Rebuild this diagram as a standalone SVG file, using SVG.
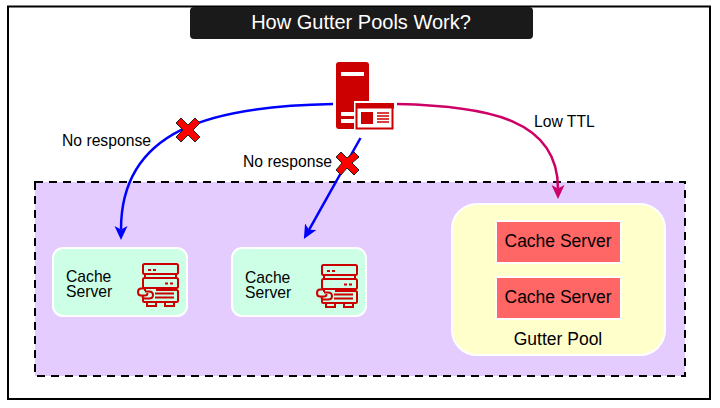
<svg xmlns="http://www.w3.org/2000/svg" width="720" height="408" viewBox="0 0 720 408">
<style>
text{font-family:"Liberation Sans",Arial,sans-serif;fill:#000;font-size:15.700px}
.m{text-anchor:middle}
.big{font-size:17.500px}
.cs{fill:#ccffe6;stroke:#fff;stroke-width:2}
.red{fill:#ff6666;stroke:#fff;stroke-width:2}
.ic{fill:none;stroke:#cc0000;stroke-width:2}
.x{fill:#ff0000;stroke:#222;stroke-width:1}
.c{fill:none;stroke-width:2.500}
</style>
<defs>
<marker id="ab" markerUnits="userSpaceOnUse" markerWidth="14" markerHeight="14" refX="3.500" refY="7" orient="auto" viewBox="0 0 14 14"><path d="M0 0.500L3.500 7L0 13.500L14 7Z" fill="#0000ff"/></marker>
<marker id="am" markerUnits="userSpaceOnUse" markerWidth="14" markerHeight="14" refX="3.500" refY="7" orient="auto" viewBox="0 0 14 14"><path d="M0 0.500L3.500 7L0 13.500L14 7Z" fill="#cc0066"/></marker>
<g id="srvicon">
<rect class="ic" x="6" y="1" width="35" height="10" rx="1.500"/>
<path class="ic" d="M8 11V15M39 11V15"/>
<rect class="ic" x="6" y="15" width="35" height="10" rx="1.500"/>
<path class="ic" d="M8 25V28M39 25V28"/>
<path class="ic" d="M19 27H39.500Q41 27 41 28.500V37.500Q41 39 39.500 39H7.500Q6 39 6 37.500V35"/>
<path class="ic" d="M10 39V43H19V39M28 39V43H37V39"/>
<path class="ic" stroke-width="1.500" d="M11 7H14M16 7H19M28 20.500H31M33 20.500H36"/>
<path class="ic" stroke-width="1.500" d="M18 30.500H37M18 34.500H37"/>
<path class="ic" d="M8 25.500H4Q1 25.500 1 29Q1 32.500 4 32.500H8Q10.500 32.500 10.500 30M8 28.500H12Q16 28.500 16 32Q16 35.500 12 35.500H8Q5.500 35.500 5.500 33"/>
</g>
</defs>
<rect width="720" height="408" fill="#fff"/>
<rect x="8" y="6.500" width="702" height="392.500" fill="#fff" stroke="#000" stroke-width="2"/>
<g id="title"><rect x="190" y="7" width="343" height="32" rx="4" fill="#1a1a1a"/><text x="361" y="29" class="m" style="fill:#fff;font-size:20px">How Gutter Pools Work?</text></g>
<g id="region"><rect x="35" y="182" width="650" height="194" fill="#e5ccff" stroke="#000" stroke-width="2" stroke-dasharray="8 6"/></g>
<g id="cache1"><rect class="cs" x="53" y="248" width="134" height="68" rx="10"/><text x="66" y="281.500">Cache</text><text x="66" y="297">Server</text><use href="#srvicon" x="137" y="263"/></g>
<g id="cache2"><rect class="cs" x="232" y="248" width="134" height="68" rx="10"/><text x="245" y="282.500">Cache</text><text x="245" y="298">Server</text><use href="#srvicon" x="316" y="264"/></g>
<g id="gutter"><rect x="452" y="204" width="213" height="151" rx="25" fill="#ffffcc" stroke="#fff" stroke-width="2"/>
<rect class="red" x="496" y="221" width="125" height="42"/><text x="558" y="246.500" class="m big">Cache Server</text>
<rect class="red" x="496" y="277" width="125" height="42"/><text x="558" y="303" class="m big">Cache Server</text>
<text x="558" y="345" class="m big">Gutter Pool</text></g>
<g id="connectors">
<path class="c" stroke="#0000ff" d="M333 104C210 106 121 130 121 229.500" marker-end="url(#ab)"/>
<path class="c" stroke="#0000ff" d="M360.500 138L309 229.800" marker-end="url(#ab)"/>
<path class="c" stroke="#cc0066" d="M397 104C490 106 558 120 558 188.500" marker-end="url(#am)"/>
</g>
<g id="server">
<rect x="336" y="62" width="33" height="67" rx="3" fill="#cc0000"/>
<rect x="341" y="72" width="23" height="4" fill="#fff"/>
<rect x="341" y="112" width="23" height="4" fill="#fff"/>
<rect x="341" y="119" width="23" height="4" fill="#fff"/>
<rect x="354" y="101" width="41" height="30" fill="#fff"/>
<rect x="356.500" y="104" width="36" height="24.500" fill="#fff" stroke="#cc0000" stroke-width="2"/>
<rect x="356" y="103" width="38" height="5.500" fill="#cc0000"/>
<rect x="361" y="112" width="12" height="12" fill="#cc0000"/>
<path d="M377 113H389M377 116H389M377 119H389M377 122H389" stroke="#cc0000" stroke-width="1.500"/>
</g>
<g id="x1"><path class="x" d="M181 118L188 125L195 118L200 123L193 130L200 137L195 142L188 135L181 142L176 137L183 130L176 123Z"/></g>
<g id="x2"><path class="x" d="M341 152L347 158L354 152L359 157L352 163L359 170L354 175L347 168L341 175L336 170L342 163L336 157Z"/></g>
<g id="labels">
<text x="62" y="146">No response</text>
<text x="243" y="167">No response</text>
<text x="534" y="127">Low TTL</text>
</g>
</svg>
